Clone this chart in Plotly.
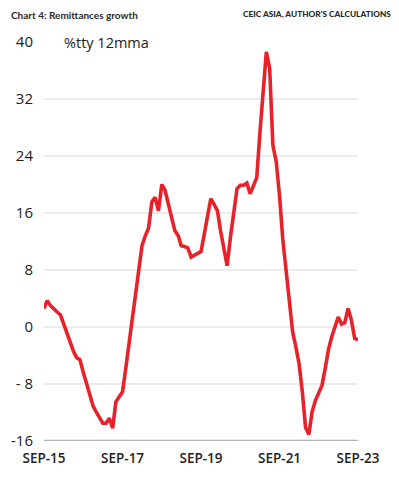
import pandas as pd
import plotly.graph_objects as go

# Monthly remittances growth, %tty 12mma, Sep-2015 .. Sep-2023
START = "2015-09-01"
VALUES = [
    2.6, 3.7, 3.0, 2.5, 2.1, 1.7, 0.4, -0.9, -2.2, -3.4,      # Sep15-Jun16
    -4.3, -4.6, -6.4, -8.0, -9.6, -11.1, -12.0, -12.8, -13.5, -13.5,  # Jul16-Apr17
    -12.8, -14.2, -10.5, -9.8, -9.1, -5.8, -2.2, 1.2, 4.8, 8.2,       # May17-Feb18
    11.4, 12.8, 13.9, 17.6, 18.2, 16.3, 20.0, 19.2, 17.1, 15.1,       # Mar18-Dec18
    13.5, 12.8, 11.4, 11.3, 11.1, 9.8, 10.1, 10.3, 10.6, 13.0,        # Jan19-Oct19
    15.9, 18.0, 17.2, 16.3, 13.5, 10.8, 8.6, 12.6, 16.4, 19.4,        # Nov19-Aug20
    19.9, 19.9, 20.2, 18.7, 19.8, 21.0, 27.0, 33.5, 38.6, 36.3,       # Sep20-Jun21
    25.5, 23.2, 18.4, 12.3, 8.0, 3.3, -0.7, -2.9, -5.1, -9.1,         # Jul21-Apr22
    -14.1, -15.1, -11.9, -10.3, -9.2, -8.2, -5.7, -3.1, -1.3, 0.0,    # May22-Feb23
    1.4, 0.4, 0.6, 2.6, 1.0, -1.6, -1.8,                              # Mar23-Sep23
]
DATES = pd.date_range(START, periods=len(VALUES), freq="MS")

X_TICK_DATES = ["2015-09-01", "2017-09-01", "2019-09-01", "2021-09-01", "2023-09-01"]
X_TICK_TEXT = ["SEP-15", "SEP-17", "SEP-19", "SEP-21", "SEP-23"]
Y_TICK_VALS = [-16, -8, 0, 8, 16, 24, 32, 40]
Y_TICK_TEXT = ["-16", "- 8", "0", "8", "16", "24", "32", "40"]
GRID_VALS = [-8, 0, 8, 16, 24, 32]

TITLE = "Chart 4: Remittances growth"
SOURCE = "CEIC ASIA, AUTHOR'S CALCULATIONS"
UNIT = "%tty 12mma"

# page body has an 8px default margin, so the figure is 16px smaller
W, H = 391, 469
ML, MR, MT, MB = 36, 41, 34, 36
PW, PH = W - ML - MR, H - MT - MB

fig = go.Figure()
fig.add_trace(go.Scatter(
    x=DATES, y=VALUES, mode="lines",
    line=dict(color="#e8222a", width=3.6),
    cliponaxis=False, hoverinfo="skip",
))

for g in GRID_VALS:
    fig.add_shape(type="line", xref="paper", yref="y", x0=0, x1=1, y0=g, y1=g,
                  line=dict(color="#e6e6e6", width=1.5), layer="below")
fig.add_shape(type="line", xref="paper", yref="y", x0=0, x1=1, y0=-16, y1=-16,
              line=dict(color="#b4b4b4", width=2.5), layer="below")

fig.update_layout(
    width=W, height=H,
    margin=dict(l=ML, r=MR, t=MT, b=MB),
    paper_bgcolor="white", plot_bgcolor="white",
    showlegend=False,
    font=dict(family="Open Sans", color="#222222"),
    xaxis=dict(
        range=[DATES[0], DATES[-1]], automargin=False,
        tickvals=X_TICK_DATES, ticktext=X_TICK_TEXT,
        showgrid=False, zeroline=False, showline=False,
        ticks="", tickfont=dict(size=13.5, family="Open Sans", color="#222222", weight=600),
        ticklabelstandoff=7,
    ),
    yaxis=dict(
        range=[-16, 40], automargin=False,
        tickvals=Y_TICK_VALS, ticktext=Y_TICK_TEXT,
        showgrid=False, zeroline=False, showline=False,
        ticks="", tickfont=dict(size=15, color="#222222"),
        ticklabelstandoff=10,
    ),
    annotations=[
        dict(text=TITLE, xref="paper", yref="paper", x=0, y=1,
             xanchor="left", yanchor="top", showarrow=False,
             xshift=-ML + 1, yshift=MT + 1,
             font=dict(size=10, family="Lato", color="#2a2a2a", weight=700)),
        dict(text=SOURCE, xref="paper", yref="paper", x=1, y=1,
             xanchor="right", yanchor="top", showarrow=False,
             xshift=MR - 6, yshift=MT + 1,
             font=dict(size=8.3, family="Lato", color="#2a2a2a", weight=900)),
        dict(text=UNIT, xref="paper", yref="y", x=18 / PW, y=40,
             xanchor="left", yanchor="middle", showarrow=False,
             font=dict(size=14.5, family="Open Sans", color="#222222")),
    ],
)

fig.write_html("out.html")
